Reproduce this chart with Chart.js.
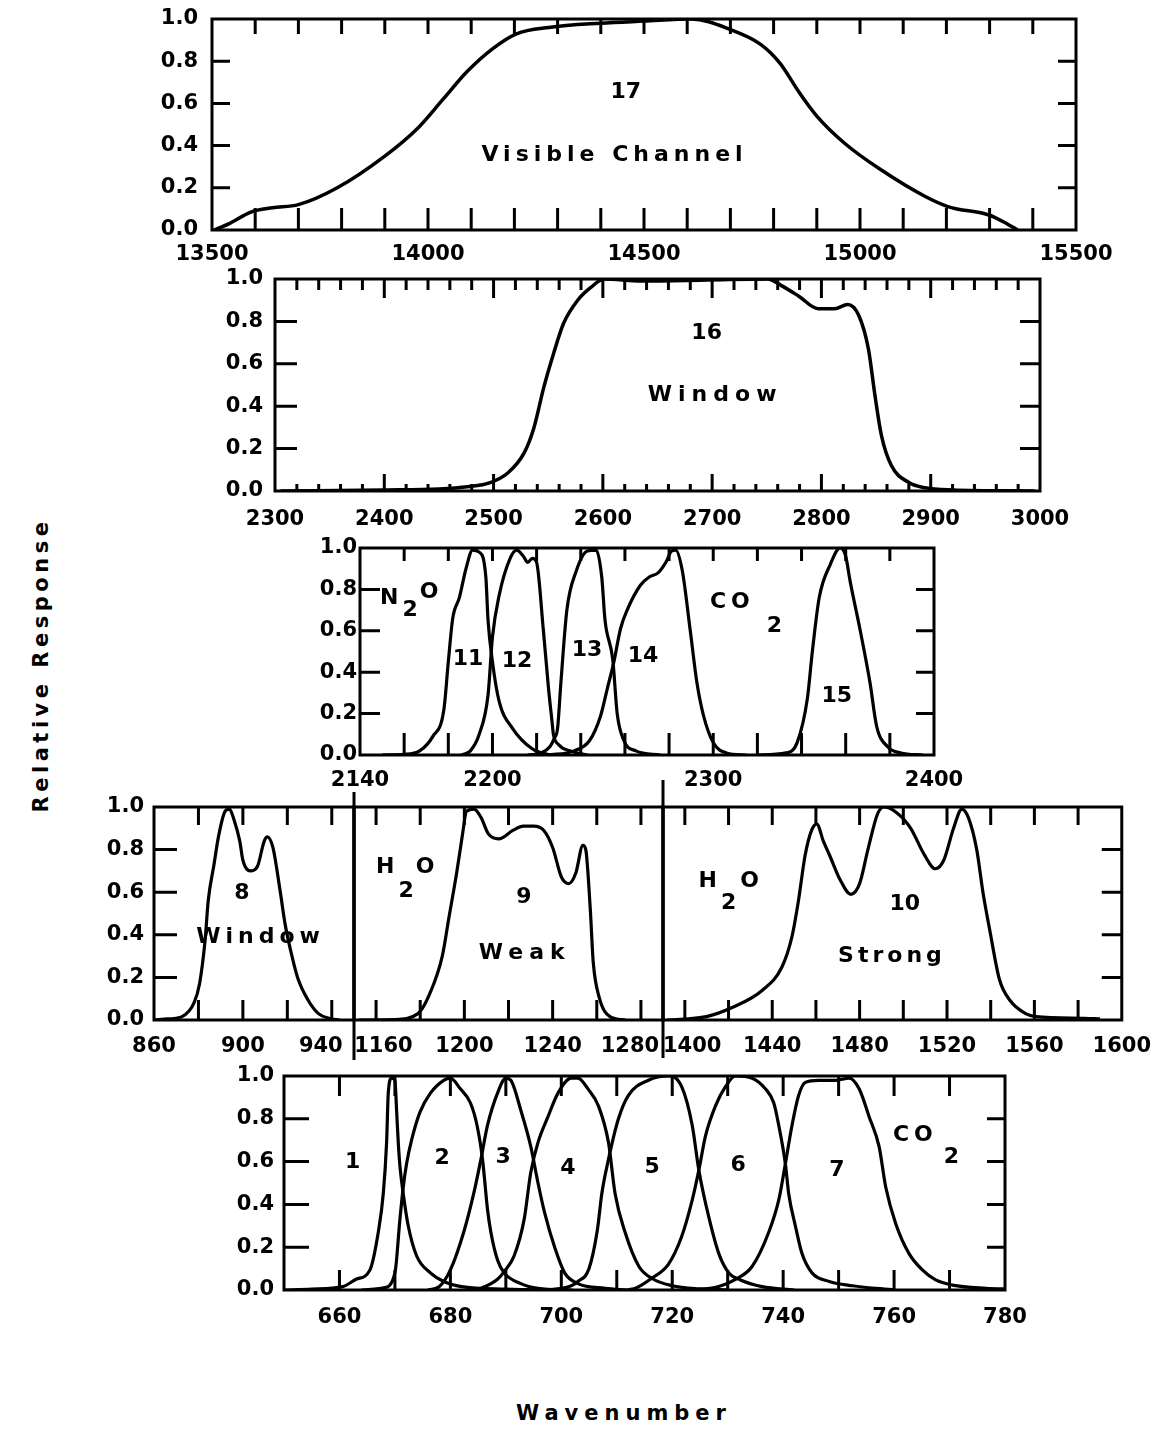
<!DOCTYPE html>
<html><head><meta charset="utf-8">
<script src="https://cdn.jsdelivr.net/npm/chart.js@4.4.1/dist/chart.umd.min.js"></script>
<style>
html,body{margin:0;padding:0;background:#fff;}
#wrap{position:relative;width:1165px;height:1434px;overflow:hidden;background:#fff;}
canvas{position:absolute;}
.title{position:absolute;font-family:'DejaVu Sans',sans-serif;font-weight:bold;font-size:21px;color:#000;white-space:nowrap;}
#ytitle{left:41px;top:665px;transform:translate(-50%,-50%) rotate(-90deg);letter-spacing:4.5px;}
#xtitle{left:624px;top:1413px;transform:translate(-50%,-50%);letter-spacing:6px;}
</style></head><body><div id="wrap">
<div class="title" id="ytitle">Relative Response</div>
<div class="title" id="xtitle">Wavenumber</div>
</div>
<script>
// ---- response curves: [wavenumber, relative response] ----
const ch17 = [[13505,0],[13540,0.03],[13590,0.085],[13640,0.105],[13700,0.12],[13790,0.2],[13900,0.35],[13975,0.48],[14035,0.62],[14090,0.75],[14150,0.86],[14205,0.93],[14280,0.96],[14400,0.98],[14500,0.99],[14610,1.0],[14700,0.95],[14770,0.88],[14815,0.79],[14860,0.65],[14900,0.54],[14965,0.41],[15045,0.29],[15150,0.16],[15205,0.11],[15300,0.07],[15340,0.03],[15365,0]];
const ch16 = [[2305,0],[2400,0.005],[2450,0.01],[2476,0.02],[2497,0.04],[2513,0.085],[2528,0.18],[2537,0.3],[2546,0.49],[2555,0.65],[2564,0.79],[2577,0.9],[2589,0.96],[2601,1.0],[2635,0.99],[2696,0.995],[2751,1.0],[2763,0.97],[2779,0.92],[2797,0.86],[2812,0.86],[2824,0.88],[2834,0.83],[2843,0.67],[2849,0.45],[2855,0.26],[2864,0.12],[2880,0.04],[2895,0.015],[2920,0.005],[2995,0]];
const ch11 = [[2150,0],[2160,0.003],[2167,0.02],[2173,0.09],[2178,0.22],[2180,0.45],[2182,0.66],[2185,0.76],[2188,0.9],[2191,0.99],[2194,0.98],[2197,0.86],[2198,0.65],[2200,0.45],[2203,0.26],[2209,0.13],[2218,0.03],[2226,0]];
const ch12 = [[2186,0],[2190,0.02],[2194,0.1],[2198,0.29],[2200,0.57],[2203,0.77],[2208,0.95],[2211,0.99],[2214,0.96],[2216,0.93],[2218,0.95],[2220,0.93],[2223,0.61],[2225.4,0.32],[2227,0.16],[2227.6,0.1],[2230,0.05],[2235,0.02],[2243,0]];
const ch13 = [[2216,0],[2222,0.01],[2226,0.04],[2228,0.08],[2229.5,0.13],[2231,0.35],[2233.7,0.7],[2238,0.89],[2243,0.985],[2247,0.99],[2249.5,0.86],[2251,0.65],[2254.5,0.46],[2256.5,0.2],[2259.5,0.07],[2265,0.02],[2276,0]];
const ch14 = [[2225,0],[2237,0.02],[2244,0.07],[2249,0.19],[2252,0.32],[2255,0.45],[2258,0.61],[2261,0.7],[2267,0.82],[2271,0.86],[2275,0.88],[2279,0.94],[2281,0.985],[2283,0.99],[2286,0.89],[2289.6,0.6],[2292.6,0.35],[2295.6,0.19],[2300,0.06],[2306,0.01],[2315,0]];
const ch15 = [[2320,0],[2333,0.01],[2338,0.06],[2342.6,0.27],[2345,0.51],[2348,0.76],[2353,0.92],[2357.5,1.0],[2360,0.96],[2362,0.84],[2366.6,0.6],[2371,0.35],[2374,0.14],[2379,0.04],[2385,0.01],[2395,0]];
const ch8 = [[860,0],[866,0.005],[872.6,0.016],[878,0.08],[880.5,0.17],[883,0.375],[884.4,0.56],[887,0.73],[889,0.86],[892,0.98],[894,0.99],[896,0.94],[898.6,0.84],[900,0.75],[903.3,0.7],[906.5,0.72],[909.6,0.84],[911,0.86],[913.5,0.81],[916.7,0.61],[919,0.45],[921.4,0.33],[924.6,0.2],[929.3,0.094],[934,0.03],[938.7,0.008],[943.5,0]];
const ch9 = [[1152,0],[1168,0.002],[1179,0.03],[1185,0.14],[1190,0.3],[1193,0.48],[1196.5,0.69],[1199,0.86],[1201,0.98],[1204.4,0.99],[1207.6,0.95],[1210.8,0.875],[1215.6,0.85],[1222,0.89],[1226.7,0.91],[1231.4,0.91],[1236,0.89],[1240,0.81],[1244,0.67],[1247.3,0.64],[1250.5,0.69],[1253.7,0.82],[1255,0.8],[1257,0.53],[1258.4,0.27],[1261,0.11],[1266,0.016],[1273,0]];
const ch10 = [[1392,0],[1409.8,0.016],[1421.9,0.06],[1435.5,0.14],[1444.5,0.25],[1449,0.39],[1452,0.56],[1455,0.77],[1458,0.89],[1460.4,0.92],[1463.4,0.84],[1466.4,0.77],[1471,0.66],[1476,0.59],[1480,0.64],[1483.8,0.8],[1488.3,0.97],[1491.3,1.0],[1497.4,0.97],[1503.4,0.9],[1509.4,0.78],[1514.7,0.71],[1518.5,0.75],[1523,0.9],[1526.8,0.99],[1529.8,0.95],[1533.6,0.8],[1536.6,0.59],[1539.6,0.42],[1544,0.19],[1548.7,0.094],[1556,0.03],[1560.8,0.016],[1583,0.008],[1590,0.005]];
const ch1 = [[650,0],[655,0.004],[660.6,0.016],[663,0.05],[665.5,0.094],[667,0.27],[667.9,0.45],[668.5,0.69],[668.8,0.92],[669.4,0.99],[670,0.98],[670.3,0.84],[670.6,0.69],[670.9,0.58],[671.5,0.45],[672.4,0.3],[673.9,0.16],[676.4,0.08],[678.8,0.04],[682,0.016],[690,0.004],[700,0]];
const ch2 = [[664,0],[668,0.01],[670,0.08],[670.9,0.33],[671.5,0.48],[672.1,0.59],[673,0.7],[674.5,0.83],[676.4,0.92],[678.8,0.98],[680,0.99],[681.8,0.94],[683.6,0.875],[684.8,0.77],[685.8,0.61],[686.7,0.375],[687.3,0.27],[688.5,0.14],[689.7,0.08],[692.7,0.03],[695.8,0.008],[702,0]];
const ch3 = [[676,0],[678,0.016],[680,0.094],[682.4,0.27],[684.2,0.45],[685.5,0.61],[686.7,0.77],[688.5,0.92],[690,0.99],[690.9,0.98],[692.7,0.84],[694.5,0.67],[695.8,0.5],[697,0.36],[698.8,0.2],[700.6,0.08],[703,0.03],[707.9,0.008],[712,0]];
const ch4 = [[684,0],[685.5,0.008],[688.5,0.05],[689.7,0.086],[691.5,0.16],[693.3,0.33],[694.5,0.55],[695.8,0.69],[697.6,0.81],[699.4,0.92],[701.8,0.99],[703,0.99],[704.8,0.94],[706.7,0.86],[708.5,0.69],[709.7,0.45],[711.5,0.27],[714,0.11],[716.3,0.055],[720,0.02],[725,0.005],[730,0]];
const ch5 = [[698,0],[701.8,0.02],[703,0.04],[705,0.1],[706.5,0.28],[707.3,0.45],[708.5,0.61],[710.3,0.8],[712.1,0.91],[715.7,0.98],[719.3,1.0],[721.7,0.95],[723.6,0.77],[724.8,0.56],[726.6,0.34],[728.4,0.17],[730.2,0.08],[732.3,0.047],[736.2,0.016],[742,0]];
const ch6 = [[712,0],[713.5,0.01],[716.3,0.055],[719.3,0.12],[721.7,0.25],[723.6,0.42],[724.8,0.56],[726,0.72],[727.8,0.86],[729.6,0.95],[731.4,1.0],[734.4,0.99],[736.8,0.94],[738.3,0.875],[739.2,0.77],[740.4,0.59],[741,0.45],[742.2,0.3],[743.4,0.17],[745.2,0.08],[748.3,0.04],[752.5,0.02],[760,0]];
const ch7 = [[724,0],[728.4,0.016],[731.4,0.05],[734.4,0.11],[737.4,0.27],[739.2,0.42],[740.4,0.59],[741.6,0.77],[742.8,0.91],[744,0.97],[746.4,0.98],[749.5,0.98],[751.9,0.99],[753.7,0.94],[755.5,0.81],[757.3,0.67],[758.5,0.48],[760.3,0.31],[762.7,0.17],[765.1,0.094],[767.5,0.047],[770.5,0.023],[776.6,0.008],[780,0.005]];

// ---- tick labels ----
const yLabelStep = 0.2;
const x17Labels = [13500,14000,14500,15000,15500];
const x16Labels = [2300,2400,2500,2600,2700,2800,2900,3000];
const x3Labels  = [2140,2200,2300,2400];
const x8Labels  = [860,900,940];
const x9Labels  = [1160,1200,1240,1280];
const x10Labels = [1400,1440,1480,1520,1560,1600];
const x5Labels  = [660,680,700,720,740,760,780];

const FONT = "'DejaVu Sans', sans-serif";
Chart.defaults.font.family = FONT;
Chart.defaults.font.weight = 'bold';
Chart.defaults.font.size = 21;
Chart.defaults.color = '#000';
Chart.defaults.animation = false;

const framePlugin = {
  id: 'frame',
  afterDatasetsDraw(chart, args, o) {
    const {ctx, chartArea: a, scales: {x, y}} = chart;
    ctx.save();
    ctx.strokeStyle = '#000'; ctx.lineWidth = 3; ctx.lineCap = 'butt';
    ctx.strokeRect(a.left, a.top, a.right - a.left, a.bottom - a.top);
    ctx.beginPath();
    x.ticks.forEach(t => {
      const v = t.value;
      if (v <= x.min + 1e-6 || v >= x.max - 1e-6) return;
      const px = x.getPixelForValue(v);
      const major = o.major ? o.major(v) : true;
      const b = major ? o.bot[0] : o.bot[1];
      const tp = major ? o.top[0] : o.top[1];
      ctx.moveTo(px, a.bottom); ctx.lineTo(px, a.bottom - b);
      ctx.moveTo(px, a.top); ctx.lineTo(px, a.top + tp);
    });
    y.ticks.forEach(t => {
      const v = t.value;
      if (v <= 0.001 || v >= 0.999) return;
      const py = y.getPixelForValue(v);
      if (o.left) { ctx.moveTo(a.left, py); ctx.lineTo(a.left + o.left, py); }
      if (o.right) { ctx.moveTo(a.right, py); ctx.lineTo(a.right - o.right, py); }
    });
    if (o.divider) { ctx.moveTo(a.left, a.top - o.divider[0]); ctx.lineTo(a.left, a.bottom + o.divider[1]); }
    ctx.stroke();
    ctx.restore();
  }
};

const notesPlugin = {
  id: 'notes',
  afterDraw(chart, args, opts) {
    const {ctx, scales: {x, y}} = chart;
    (opts.items || []).forEach(n => {
      ctx.save();
      ctx.fillStyle = '#000';
      ctx.font = `bold ${n.size || 22}px ${FONT}`;
      ctx.textBaseline = 'middle';
      ctx.textAlign = 'left';
      const parts = n.parts || [{t: n.t, ls: n.ls || 0}];
      const widths = parts.map(p => { ctx.letterSpacing = (p.ls || 0) + 'px'; return ctx.measureText(p.t).width + (p.gap || 0); });
      const total = widths.reduce((s, w) => s + w, 0);
      let px = x.getPixelForValue(n.x);
      if (n.align !== 'left') px -= (total - (parts[parts.length - 1].ls || 0)) / 2;
      const py = y.getPixelForValue(n.y);
      parts.forEach((p, i) => {
        ctx.letterSpacing = (p.ls || 0) + 'px';
        ctx.fillText(p.t, px + (p.gap || 0), py + (p.dy || 0));
        px += widths[i];
      });
      ctx.restore();
    });
  }
};

function panel(cfg) {
  const PL = cfg.pl ?? 60, PR = cfg.pr ?? 60, PT = cfg.pt ?? 30, PB = cfg.pb ?? 50;
  const A = cfg.area;
  const w = A.right - A.left + PL + PR;
  const h = A.bottom - A.top + PT + PB;
  const c = document.createElement('canvas');
  c.width = w; c.height = h;
  c.style.left = (A.left - PL) + 'px';
  c.style.top = (A.top - PT) + 'px';
  c.style.width = w + 'px'; c.style.height = h + 'px';
  document.getElementById('wrap').appendChild(c);
  const stepTicks = step => s => {
    const arr = [];
    for (let k = Math.ceil(s.min / step - 1e-9); k * step <= s.max + 1e-9; k++) arr.push({value: Math.round(k * step * 1e6) / 1e6});
    s.ticks = arr;
  };
  const nudge = cfg.nudge || {};
  const xLabel = v => {
    if (!cfg.xlabels.some(l => Math.abs(l - v) < 1e-6)) return '';
    const n = nudge[v] || 0;  // padding spaces shift a centred label sideways
    return n > 0 ? ' '.repeat(n) + v : n < 0 ? v + ' '.repeat(-n) : String(v);
  };
  new Chart(c, {
    type: 'line',
    data: {datasets: cfg.series.map(s => ({
      data: s.map(p => ({x: p[0], y: p[1]})),
      borderColor: '#000', borderWidth: cfg.lw || 3.5, pointRadius: 0,
      cubicInterpolationMode: 'monotone', fill: false
    }))},
    options: {
      responsive: false, devicePixelRatio: 1, animation: false,
      layout: {padding: {top: PT, right: PR, left: 0, bottom: 0}},
      plugins: {legend: {display: false}, tooltip: {enabled: false}, frame: cfg.frame, notes: {items: cfg.notes || []}},
      scales: {
        x: {type: 'linear', min: cfg.xmin, max: cfg.xmax,
            grid: {display: false, drawTicks: false}, border: {display: false},
            afterBuildTicks: stepTicks(cfg.xstep),
            ticks: {autoSkip: false, maxRotation: 0, minRotation: 0, padding: cfg.xpad, callback: xLabel},
            afterFit: s => { s.height = PB; }},
        y: {type: 'linear', min: 0, max: 1,
            grid: {display: false, drawTicks: false}, border: {display: false},
            afterBuildTicks: stepTicks(yLabelStep),
            ticks: {display: cfg.ylabels !== false, padding: cfg.ypad ?? 10, callback: v => Number(v).toFixed(1)},
            afterFit: s => { s.width = PL; }}
      }
    },
    plugins: [framePlugin, notesPlugin]
  });
}

// Channel 17
panel({area: {left: 212, top: 19, right: 1076, bottom: 230}, xmin: 13500, xmax: 15500, xstep: 100,
  xlabels: x17Labels, xpad: 12, ypad: 14, series: [ch17],
  frame: {bot: [22, 22], top: [15, 15], left: 18, right: 18},
  notes: [{t: '17', x: 14458, y: 0.654}, {t: 'Visible Channel', x: 14426, y: 0.355, ls: 5}]});

// Channel 16
panel({area: {left: 275, top: 279, right: 1040, bottom: 491}, xmin: 2300, xmax: 3000, xstep: 20,
  xlabels: x16Labels, xpad: 16, ypad: 12, series: [ch16],
  frame: {bot: [17, 7], top: [19, 11], left: 22, right: 20, major: v => Math.abs(v % 100) < 1e-6},
  notes: [{t: '16', x: 2695, y: 0.745}, {t: 'Window', x: 2700, y: 0.453, ls: 6}]});

// Channels 11-15
panel({area: {left: 360, top: 548, right: 934, bottom: 755}, xmin: 2140, xmax: 2400, xstep: 20,
  xlabels: x3Labels, xpad: 13, ypad: 3, series: [ch11, ch12, ch13, ch14, ch15], lw: 3.2,
  frame: {bot: [22, 22], top: [13, 13], left: 20, right: 18},
  notes: [
    {parts: [{t: 'N', ls: 1}, {t: '2', dy: 12, gap: 3}, {t: 'O', dy: -6, gap: 2}], x: 2149.1, y: 0.757, align: 'left'},
    {t: '11', x: 2188.9, y: 0.461}, {t: '12', x: 2211.1, y: 0.451}, {t: '13', x: 2242.8, y: 0.505}, {t: '14', x: 2268.2, y: 0.476},
    {parts: [{t: 'CO', ls: 5}, {t: '2', dy: 24, gap: 12}], x: 2298.5, y: 0.738, align: 'left'},
    {t: '15', x: 2356, y: 0.286}]});

// Channel 8
panel({area: {left: 154, top: 807, right: 354, bottom: 1020}, xmin: 860, xmax: 950, xstep: 20,
  xlabels: x8Labels, nudge: {940: -3}, xpad: 14, ypad: 10, series: [ch8], lw: 3.2,
  frame: {bot: [20, 20], top: [18, 18], left: 23, right: 0},
  notes: [{t: '8', x: 899.6, y: 0.596}, {t: 'Window', x: 906.8, y: 0.39, ls: 5}]});

// Channel 9
panel({area: {left: 354, top: 807, right: 663, bottom: 1020}, xmin: 1150, xmax: 1290, xstep: 20,
  xlabels: x9Labels, nudge: {1160: 2, 1280: -3}, xpad: 14, ylabels: false, series: [ch9], lw: 3.2,
  frame: {bot: [20, 20], top: [18, 18], left: 0, right: 0, divider: [15, 40]},
  notes: [
    {parts: [{t: 'H'}, {t: '2', dy: 24, gap: 4}, {t: 'O', gap: 2}], x: 1160, y: 0.718, align: 'left'},
    {t: '9', x: 1227, y: 0.577}, {t: 'Weak', x: 1226, y: 0.315, ls: 6}]});

// Channel 10
panel({area: {left: 663, top: 807, right: 1128, bottom: 1020}, pr: 37, xmin: 1390, xmax: 1600, xstep: 20,
  xlabels: x10Labels, nudge: {1400: 2}, xpad: 14, ylabels: false, series: [ch10], lw: 3.2,
  frame: {bot: [20, 20], top: [18, 18], left: 0, right: 20, divider: [27, 38]},
  notes: [
    {parts: [{t: 'H'}, {t: '2', dy: 22, gap: 4}, {t: 'O', gap: 4}], x: 1406.3, y: 0.653, align: 'left'},
    {t: '10', x: 1500.7, y: 0.545}, {t: 'Strong', x: 1493.9, y: 0.30, ls: 4}]});

// Channels 1-7
panel({area: {left: 284, top: 1076, right: 1005, bottom: 1290}, xmin: 650, xmax: 780, xstep: 10,
  xlabels: x5Labels, xpad: 15, ypad: 10, series: [ch1, ch2, ch3, ch4, ch5, ch6, ch7], lw: 3.2,
  frame: {bot: [20, 20], top: [20, 20], left: 25, right: 18},
  notes: [
    {t: '1', x: 662.4, y: 0.598}, {t: '2', x: 678.5, y: 0.617}, {t: '3', x: 689.5, y: 0.621}, {t: '4', x: 701.2, y: 0.57},
    {t: '5', x: 716.4, y: 0.575}, {t: '6', x: 731.9, y: 0.584}, {t: '7', x: 749.7, y: 0.561},
    {parts: [{t: 'CO', ls: 5}, {t: '2', dy: 22, gap: 6}], x: 759.8, y: 0.724, align: 'left'}]});
</script></body></html>
